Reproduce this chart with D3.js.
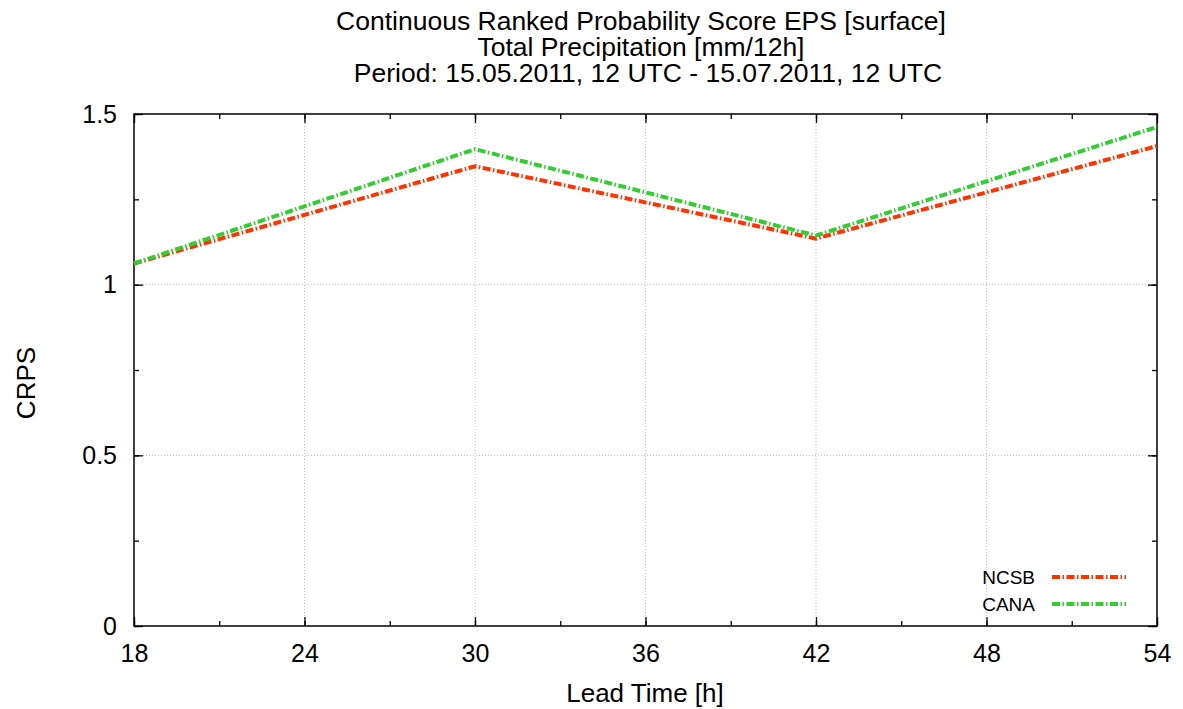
<!DOCTYPE html>
<html>
<head>
<meta charset="utf-8">
<title>CRPS EPS</title>
<script src="https://cdn.jsdelivr.net/npm/d3@7"></script>
<style>
body { margin: 0; background: #fff; }
text { font-family: "Liberation Sans", Arial, sans-serif; fill: #000; }
.grid line { stroke: #bbb; stroke-width: 1; stroke-dasharray: 1,2; }
.series { fill: none; stroke-width: 4; stroke-dasharray: 8,2.5,1.5,2.5; }
</style>
</head>
<body>
<div id="chart"></div>
<script>
// lead times and scores
var leadTimes = [18, 30, 42, 54];
var ncsb = [1.062, 1.347, 1.135, 1.406];
var cana = [1.062, 1.397, 1.144, 1.462];
var seriesNames = ["NCSB", "CANA"];
var seriesColors = ["#ff3300", "#33cc33"];
var xTicks = [18, 24, 30, 36, 42, 48, 54];
var yTicks = [0, 0.5, 1, 1.5];
var titleLines = ["Continuous Ranked Probability Score EPS [surface]",
	"Total Precipitation [mm/12h]",
	"Period: 15.05.2011, 12 UTC - 15.07.2011, 12 UTC"];

var width = 1183, height = 709;
// plot frame (note: "top" is a read-only global, so use other names)
var pLeft = 134, pRight = 1157, pTop = 114, pBottom = 626;

var svg = d3.select("#chart").append("svg")
	.attr("width", width).attr("height", height);

var x = d3.scaleLinear().domain([18, 54]).range([pLeft, pRight]);
var y = d3.scaleLinear().domain([0, 1.5]).range([pBottom, pTop]);

// dotted grid at major ticks
var grid = svg.append("g").attr("class", "grid");
grid.selectAll(".gx").data(xTicks.slice(1, -1)).enter().append("line")
	.attr("x1", function(d) { return x(d); }).attr("x2", function(d) { return x(d); })
	.attr("y1", pTop).attr("y2", pBottom);
grid.selectAll(".gy").data(yTicks.slice(1, -1)).enter().append("line")
	.attr("y1", function(d) { return y(d); }).attr("y2", function(d) { return y(d); })
	.attr("x1", pLeft).attr("x2", pRight);

// axes, mirrored on all four sides like gnuplot
var xMinor = d3.range(18, 54.1, 3);
var yMinor = d3.range(0, 1.51, 0.25);
function styleAxis(g) {
	g.select(".domain").remove();
	g.selectAll(".tick line").attr("stroke", "#000").attr("stroke-width", 1.3);
	g.selectAll("text").style("font-size", "25px");
}
svg.append("g").attr("transform", "translate(0," + pBottom + ")")
	.call(d3.axisBottom(x).tickValues(xMinor).tickSize(-5).tickFormat(""))
	.call(styleAxis);
svg.append("g").attr("transform", "translate(0," + pBottom + ")")
	.call(d3.axisBottom(x).tickValues(xTicks).tickSize(-9).tickPadding(18).tickFormat(d3.format("d")))
	.call(styleAxis);
svg.append("g").attr("transform", "translate(0," + pTop + ")")
	.call(d3.axisTop(x).tickValues(xMinor).tickSize(-5).tickFormat(""))
	.call(styleAxis);
svg.append("g").attr("transform", "translate(0," + pTop + ")")
	.call(d3.axisTop(x).tickValues(xTicks).tickSize(-9).tickFormat(""))
	.call(styleAxis);
svg.append("g").attr("transform", "translate(" + pLeft + ",0)")
	.call(d3.axisLeft(y).tickValues(yMinor).tickSize(-5).tickFormat(""))
	.call(styleAxis);
svg.append("g").attr("transform", "translate(" + pLeft + ",0)")
	.call(d3.axisLeft(y).tickValues(yTicks).tickSize(-9).tickPadding(17).tickFormat(d3.format("")))
	.call(styleAxis);
svg.append("g").attr("transform", "translate(" + pRight + ",0)")
	.call(d3.axisRight(y).tickValues(yMinor).tickSize(-5).tickFormat(""))
	.call(styleAxis);
svg.append("g").attr("transform", "translate(" + pRight + ",0)")
	.call(d3.axisRight(y).tickValues(yTicks).tickSize(-9).tickFormat(""))
	.call(styleAxis);

svg.append("rect").attr("x", pLeft).attr("y", pTop)
	.attr("width", pRight - pLeft).attr("height", pBottom - pTop)
	.attr("fill", "none").attr("stroke", "#000").attr("stroke-width", 1.5);

// series lines
var line = d3.line()
	.x(function(d, i) { return x(leadTimes[i]); })
	.y(function(d) { return y(d); });
[ncsb, cana].forEach(function(vals, k) {
	svg.append("path").attr("class", "series")
		.attr("d", line(vals)).attr("stroke", seriesColors[k]);
});

// legend
seriesNames.forEach(function(name, k) {
	var ly = 577 + k * 27;
	svg.append("text").attr("x", 1035).attr("y", ly).attr("dy", "0.35em")
		.attr("text-anchor", "end").style("font-size", "19px").text(name);
	svg.append("line").attr("class", "series")
		.attr("x1", 1052).attr("x2", 1126).attr("y1", ly).attr("y2", ly)
		.attr("stroke", seriesColors[k]);
});

// titles
var titleX = [641, 641, 648];
svg.selectAll(".title").data(titleLines).enter().append("text")
	.attr("x", function(d, i) { return titleX[i]; })
	.attr("y", function(d, i) { return 30 + i * 26; })
	.attr("text-anchor", "middle").style("font-size", "26.5px")
	.text(function(d) { return d; });

svg.append("text").attr("x", 645).attr("y", 702)
	.attr("text-anchor", "middle").style("font-size", "26px").text("Lead Time [h]");
svg.append("text").attr("transform", "translate(35,383) rotate(-90)")
	.attr("text-anchor", "middle").style("font-size", "26px").text("CRPS");
</script>
</body>
</html>
